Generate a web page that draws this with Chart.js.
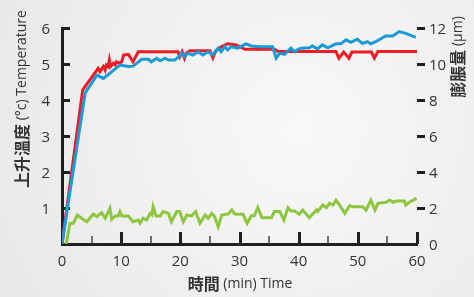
<!DOCTYPE html>
<html><head><meta charset="utf-8">
<script src="https://cdn.jsdelivr.net/npm/chart.js@4/dist/chart.umd.min.js"></script>
<style>html,body{margin:0;padding:0;background:#eeeeee;overflow:hidden}canvas{display:block}</style>
</head><body>
<canvas id="c" width="474" height="297"></canvas>
<script>
const xTicks = [0, 10, 20, 30, 40, 50, 60];
const xMinorTicks = [5, 15, 25, 35, 45, 55];
const leftTicks = [1, 2, 3, 4, 5, 6];
const rightTicks = [0, 2, 4, 6, 8, 10, 12];

const redTime = [0, 3.5, 5.9, 6.1, 6.4, 7.0, 7.3, 7.5, 7.8, 8.0, 8.2, 8.7, 9.0, 9.2, 9.7, 10.1, 10.4, 11.2, 12.0, 12.9, 19.6, 19.9, 20.3, 20.7, 21.0, 21.6, 25.0, 25.5, 26.0, 26.9, 28.0, 29.5, 30.9, 35.9, 36.5, 46.3, 46.8, 47.6, 48.5, 49.0, 52.3, 52.8, 53.4, 60];
const redTemp = [0, 4.28, 4.83, 4.88, 4.79, 4.93, 4.83, 4.97, 4.93, 5.11, 4.93, 5.02, 4.97, 5.06, 5.02, 5.06, 5.25, 5.27, 5.06, 5.34, 5.34, 5.2, 5.34, 5.16, 5.3, 5.37, 5.37, 5.17, 5.37, 5.48, 5.56, 5.53, 5.41, 5.41, 5.35, 5.35, 5.16, 5.33, 5.16, 5.33, 5.33, 5.16, 5.35, 5.35];

const blueTime = [0, 3.9, 5.9, 7.0, 9.8, 11.2, 12.0, 13.5, 14.6, 15.1, 16.0, 16.6, 17.4, 18.0, 19.1, 19.8, 20.2, 20.7, 21.3, 22.1, 23.0, 23.8, 24.7, 25.5, 26.4, 26.9, 27.5, 28.0, 28.6, 29.7, 31.1, 32.0, 33.4, 35.6, 36.2, 36.8, 37.6, 38.7, 39.3, 39.9, 40.4, 41.8, 42.3, 43.2, 44.0, 44.9, 46.3, 47.1, 48.0, 48.8, 49.9, 50.8, 51.6, 52.2, 53.0, 54.7, 55.9, 57.0, 58.1, 59.8];
const blueTemp = [0, 4.19, 4.69, 4.6, 4.97, 4.93, 4.94, 5.13, 5.13, 5.06, 5.16, 5.09, 5.16, 5.11, 5.11, 5.22, 5.30, 5.2, 5.3, 5.25, 5.34, 5.25, 5.34, 5.25, 5.44, 5.34, 5.48, 5.39, 5.48, 5.44, 5.56, 5.5, 5.48, 5.48, 5.16, 5.3, 5.27, 5.44, 5.34, 5.41, 5.44, 5.45, 5.5, 5.42, 5.53, 5.45, 5.56, 5.56, 5.67, 5.6, 5.69, 5.57, 5.62, 5.56, 5.62, 5.78, 5.78, 5.9, 5.85, 5.74];

const greenTime = [0.7, 1.35, 1.9, 2.6, 3.3, 4.2, 5.3, 5.9, 6.7, 7.3, 8.1, 8.4, 9.0, 9.5, 9.8, 10.1, 11.2, 12.0, 12.9, 13.2, 13.7, 14.3, 14.9, 15.2, 15.4, 15.9, 16.6, 17.1, 18.0, 18.5, 19.4, 19.9, 20.5, 21.1, 21.9, 22.6, 23.3, 24.2, 24.7, 25.3, 25.8, 26.4, 27.0, 28.1, 28.7, 29.2, 30.6, 31.3, 32.0, 32.5, 33.1, 33.8, 35.4, 35.9, 36.8, 37.5, 38.2, 38.7, 39.3, 40.1, 40.7, 41.8, 43.0, 43.2, 44.1, 44.7, 45.2, 45.8, 46.3, 46.9, 47.8, 48.6, 49.2, 50.8, 51.4, 52.2, 52.9, 53.4, 54.8, 55.4, 55.9, 56.5, 57.9, 58.1, 58.7, 59.9];
const greenExpansion = [0, 1.15, 1.15, 1.61, 1.43, 1.24, 1.67, 1.52, 1.74, 1.43, 1.98, 1.37, 1.56, 1.56, 1.8, 1.56, 1.56, 1.24, 1.33, 1.15, 1.43, 1.33, 1.7, 1.61, 2.07, 1.56, 1.56, 1.8, 1.7, 1.24, 1.8, 1.8, 1.24, 1.61, 1.56, 1.8, 1.15, 1.61, 1.43, 1.7, 1.52, 0.96, 1.61, 1.67, 1.89, 1.67, 1.65, 1.15, 1.57, 1.57, 2.02, 1.46, 1.46, 1.8, 1.8, 1.33, 2.02, 1.83, 1.83, 1.65, 1.89, 1.46, 1.89, 1.8, 2.17, 2.02, 2.26, 2.17, 2.44, 2.17, 1.7, 2.13, 2.07, 2.07, 1.89, 2.44, 1.89, 2.26, 2.32, 2.44, 2.32, 2.39, 2.39, 2.17, 2.32, 2.54];

const pts = (xs, ys) => xs.map((x, i) => ({ x: x, y: ys[i] }));

const TXT = '#333333';
const AXIS = '#231f20';
const latinFont = '"Open Sans", "Noto Sans", sans-serif';
const cjkFont = '"Noto Sans CJK TC", "Noto Sans CJK SC", sans-serif';

function drawMixed(ctx, parts, cx, cy, rot) {
  ctx.save();
  ctx.translate(cx, cy);
  ctx.rotate(rot);
  let total = 0;
  const widths = parts.map(p => { ctx.font = p.font; const w = ctx.measureText(p.text).width; total += w; return w; });
  let x = -total / 2;
  ctx.textBaseline = 'middle';
  ctx.textAlign = 'left';
  ctx.fillStyle = TXT;
  parts.forEach((p, i) => { ctx.font = p.font; ctx.fillText(p.text, x, 0); x += widths[i]; });
  ctx.restore();
}

const decor = {
  id: 'decor',
  beforeDraw(chart) {
    const ctx = chart.ctx;
    const g = ctx.createRadialGradient(300, 130, 10, 300, 130, 380);
    g.addColorStop(0, '#f8f8f8');
    g.addColorStop(1, '#e6e6e6');
    ctx.save();
    ctx.fillStyle = g;
    ctx.fillRect(0, 0, chart.width, chart.height);
    ctx.restore();
  },
  beforeDatasetsDraw(chart) {
    const ctx = chart.ctx;
    const xs = chart.scales.x, yl = chart.scales.y, yr = chart.scales.y2;
    const L = chart.chartArea.left, R = chart.chartArea.right, B = chart.chartArea.bottom;
    ctx.save();
    ctx.strokeStyle = AXIS;
    ctx.lineCap = 'butt';
    ctx.lineWidth = 3;
    leftTicks.forEach(v => {
      const y = Math.round(yl.getPixelForValue(v)) + 0.5;
      ctx.beginPath(); ctx.moveTo(L, y); ctx.lineTo(L + 8, y); ctx.stroke();
    });
    rightTicks.forEach(v => {
      if (v === 0) return;
      const y = Math.round(yr.getPixelForValue(v)) + 0.5;
      ctx.beginPath(); ctx.moveTo(R, y); ctx.lineTo(R + 8, y); ctx.stroke();
    });
    xTicks.forEach(v => {
      if (v === 0) return;
      const x = Math.round(xs.getPixelForValue(v)) + 0.5;
      ctx.beginPath(); ctx.moveTo(x, B); ctx.lineTo(x, B - 12); ctx.stroke();
    });
    ctx.lineWidth = 1.5;
    ctx.strokeStyle = '#444';
    xMinorTicks.forEach(v => {
      const x = Math.round(xs.getPixelForValue(v));
      ctx.beginPath(); ctx.moveTo(x, B); ctx.lineTo(x, B - 8); ctx.stroke();
    });
    ctx.restore();
  },
  afterDraw(chart) {
    const ctx = chart.ctx;
    drawMixed(ctx, [
      { text: '上升溫度', font: 'bold 16px ' + cjkFont },
      { text: ' (°c) Temperature', font: '14px ' + latinFont }
    ], 22, 99, -Math.PI / 2);
    drawMixed(ctx, [
      { text: '膨脹量', font: 'bold 16px ' + cjkFont },
      { text: ' (μm)', font: '14px ' + latinFont }
    ], 458, 57, -Math.PI / 2);
    drawMixed(ctx, [
      { text: '時間', font: 'bold 16px ' + cjkFont },
      { text: ' (min) Time', font: '14px ' + latinFont }
    ], 240, 284, 0);
  }
};

new Chart(document.getElementById('c'), {
  type: 'line',
  data: {
    datasets: [
      { label: 'Blue', data: pts(blueTime, blueTemp), yAxisID: 'y', borderColor: '#1a9ad8', borderWidth: 3, pointRadius: 0, tension: 0, fill: false },
      { label: 'Red', data: pts(redTime, redTemp), yAxisID: 'y', borderColor: '#ee1c25', borderWidth: 3, pointRadius: 0, tension: 0, fill: false },
      { label: 'Green', data: pts(greenTime, greenExpansion), yAxisID: 'y2', borderColor: '#8dc63f', borderWidth: 3, pointRadius: 0, tension: 0, fill: false }
    ]
  },
  options: {
    responsive: false,
    animation: false,
    devicePixelRatio: 1,
    layout: { padding: { top: 28, left: 0, right: 0, bottom: 0 } },
    plugins: { legend: { display: false }, tooltip: { enabled: false } },
    scales: {
      x: {
        type: 'linear', position: 'bottom', min: 0, max: 60,
        afterFit(s) { s.height = 53; },
        afterBuildTicks(s) { s.ticks = xTicks.map(v => ({ value: v })); },
        grid: { display: false, drawTicks: false },
        border: { display: true, color: AXIS, width: 3 },
        ticks: { padding: 9, color: TXT, font: { family: latinFont, size: 15 }, maxRotation: 0, autoSkip: false }
      },
      y: {
        type: 'linear', position: 'left', min: 0, max: 6,
        afterFit(s) { s.width = 62; },
        afterBuildTicks(s) { s.ticks = [0].concat(leftTicks).map(v => ({ value: v })); },
        grid: { display: false, drawTicks: false },
        border: { display: true, color: AXIS, width: 3 },
        ticks: { padding: 12, labelOffset: 2, color: TXT, font: { family: latinFont, size: 15 },
          callback: v => leftTicks.includes(v) ? String(v) : '' }
      },
      y2: {
        type: 'linear', position: 'right', min: 0, max: 12,
        afterFit(s) { s.width = 57; },
        afterBuildTicks(s) { s.ticks = rightTicks.map(v => ({ value: v })); },
        grid: { display: false, drawTicks: false },
        border: { display: false },
        ticks: { padding: 12, labelOffset: 2, color: TXT, font: { family: latinFont, size: 15 } }
      }
    }
  },
  plugins: [decor]
});
</script>
</body></html>
